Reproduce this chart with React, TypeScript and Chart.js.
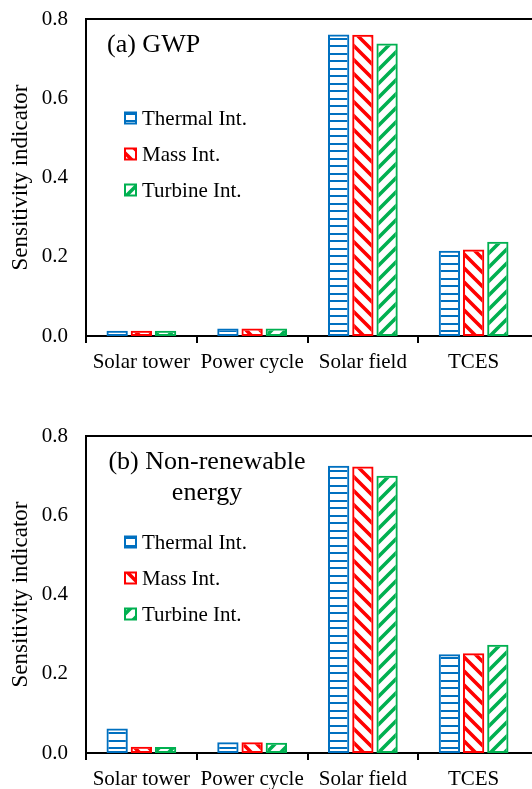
import React, { useEffect, useRef } from "react";
import { Chart, registerables } from "chart.js";

Chart.register(...registerables);

// ---------- data ----------
const categories = ["Solar tower", "Power cycle", "Solar field", "TCES"];
const seriesNames = ["Thermal Int.", "Mass Int.", "Turbine Int."];

const gwpThermal = [0.013, 0.019, 0.761, 0.215];
const gwpMass = [0.013, 0.019, 0.760, 0.218];
const gwpTurbine = [0.013, 0.019, 0.738, 0.238];

const nreThermal = [0.062, 0.027, 0.725, 0.249];
const nreMass = [0.016, 0.027, 0.723, 0.252];
const nreTurbine = [0.015, 0.026, 0.700, 0.273];

const yMin = 0;
const yMax = 0.8;
const yStep = 0.2;

const panelATitle = ["(a) GWP"];
const panelBTitle = ["(b) Non-renewable", "energy"];
const yAxisTitle = "Sensitivity indicator";

// ---------- styles ----------
const FONT = "'Liberation Serif', 'Times New Roman', serif";
const COLORS = ["#0070C0", "#FF0000", "#00B050"];
const KINDS = ["h", "d", "u"];
const W = 532;
const H = 417;

function makePattern(kind: string, color: string): CanvasPattern | string {
  const c = document.createElement("canvas");
  const ctx = c.getContext("2d");
  if (!ctx) return color;
  if (kind === "h") {
    c.width = 8;
    c.height = 15;
    ctx.fillStyle = color;
    ctx.fillRect(0, 0, 8, 2);
    ctx.fillRect(0, 8, 8, 2);
  } else {
    const s = 14;
    c.width = s;
    c.height = s;
    ctx.strokeStyle = color;
    ctx.lineWidth = 3.6;
    ctx.beginPath();
    for (const k of [-1, 0, 1]) {
      if (kind === "d") {
        ctx.moveTo(k * s - 3, -3);
        ctx.lineTo(k * s + s + 3, s + 3);
      } else {
        ctx.moveTo(k * s - 3, s + 3);
        ctx.lineTo(k * s + s + 3, -3);
      }
    }
    ctx.stroke();
  }
  return ctx.createPattern(c, "repeat") || color;
}

const framePlugin = {
  id: "frame",
  afterDraw(chart: any, _args: any, opts: any) {
    const { ctx } = chart;
    const { left, top, right, bottom } = chart.chartArea;
    ctx.save();
    ctx.strokeStyle = "#000";
    ctx.lineWidth = 2;
    ctx.beginPath();
    ctx.moveTo(left - 1, top);
    ctx.lineTo(chart.width, top);
    ctx.stroke();
    ctx.beginPath();
    ctx.moveTo(right - 1, bottom);
    ctx.lineTo(chart.width, bottom);
    ctx.stroke();

    // panel title
    ctx.fillStyle = "#000";
    ctx.font = `26px ${FONT}`;
    ctx.textBaseline = "middle";
    ctx.textAlign = opts.titleAlign;
    (opts.titleLines as string[]).forEach((line, i) => {
      ctx.fillText(line, opts.titleX, top + opts.titleY + i * 31.5);
    });

    // legend
    ctx.textAlign = "left";
    ctx.font = `21px ${FONT}`;
    chart.data.datasets.forEach((ds: any, i: number) => {
      const cy = top + opts.legendY + i * 36;
      const x = 125;
      const sz = 11;
      ctx.fillStyle = "#fff";
      ctx.fillRect(x, cy - sz / 2, sz, sz);
      ctx.fillStyle = ds.legendPattern;
      ctx.fillRect(x, cy - sz / 2, sz, sz);
      ctx.strokeStyle = ds.borderColor;
      ctx.lineWidth = 2;
      ctx.strokeRect(x, cy - sz / 2, sz, sz);
      ctx.fillStyle = "#000";
      ctx.fillText(ds.label, 142, cy + 1);
    });
    ctx.restore();
  },
};

function Panel(props: {
  top: number;
  series: number[][];
  titleLines: string[];
  titleAlign: string;
  titleX: number;
  titleY: number;
  legendY: number;
}) {
  const ref = useRef<HTMLCanvasElement | null>(null);
  useEffect(() => {
    if (!ref.current) return;
    const datasets = props.series.map((vals, i) => {
      const pat = makePattern(KINDS[i], COLORS[i]);
      return {
        label: seriesNames[i],
        data: vals,
        backgroundColor: pat,
        legendPattern: pat,
        borderColor: COLORS[i],
        borderWidth: 2,
        borderSkipped: false,
        categoryPercentage: 0.656,
        barPercentage: 0.88,
      };
    });
    const chart = new Chart(ref.current, {
      type: "bar",
      data: { labels: categories, datasets: datasets as any },
      plugins: [framePlugin as any],
      options: {
        animation: false,
        responsive: true,
        maintainAspectRatio: false,
        layout: { padding: { top: 19, left: 0, right: 3, bottom: 0 } },
        plugins: {
          legend: { display: false },
          tooltip: { enabled: false },
          frame: {
            titleLines: props.titleLines,
            titleAlign: props.titleAlign,
            titleX: props.titleX,
            titleY: props.titleY,
            legendY: props.legendY,
          },
        } as any,
        scales: {
          x: {
            z: 1,
            grid: {
              display: true,
              offset: true,
              drawOnChartArea: false,
              drawTicks: true,
              tickLength: 7,
              color: (c: any) => (c.type === "tick" ? "#000" : "rgba(0,0,0,0)"),
              lineWidth: 2,
            },
            border: { display: true, color: "#000", width: 2 },
            ticks: {
              color: "#000",
              font: { family: FONT, size: 21 },
              padding: 7,
              maxRotation: 0,
              autoSkip: false,
            },
            afterFit: (scale: any) => {
              scale.height = 81;
            },
          },
          y: {
            min: yMin,
            max: yMax,
            grid: { display: false, drawTicks: true, tickLength: 18 },
            border: { display: true, color: "#000", width: 2 },
            ticks: {
              stepSize: yStep,
              color: "#000",
              font: { family: FONT, size: 21 },
              padding: 0,
              callback: (v: any) => Number(v).toFixed(1),
            },
            title: {
              display: true,
              text: yAxisTitle,
              color: "#000",
              font: { family: FONT, size: 23, weight: "normal" },
              padding: { top: 7, bottom: 0 },
            },
            afterFit: (scale: any) => {
              scale.width = 86;
            },
          },
        },
      },
    });
    return () => chart.destroy();
  }, []);
  return (
    <div
      style={{
        position: "absolute",
        left: 0,
        top: props.top,
        width: W,
        height: H,
      }}
    >
      <canvas ref={ref} />
    </div>
  );
}

export default function App() {
  return (
    <div
      style={{
        position: "fixed",
        left: 0,
        top: 0,
        width: W,
        height: 789,
        overflow: "hidden",
        background: "#fff",
      }}
    >
      <Panel
        top={0}
        series={[gwpThermal, gwpMass, gwpTurbine]}
        titleLines={panelATitle}
        titleAlign="left"
        titleX={107}
        titleY={26}
        legendY={99}
      />
      <Panel
        top={417}
        series={[nreThermal, nreMass, nreTurbine]}
        titleLines={panelBTitle}
        titleAlign="center"
        titleX={207}
        titleY={26}
        legendY={106}
      />
    </div>
  );
}
